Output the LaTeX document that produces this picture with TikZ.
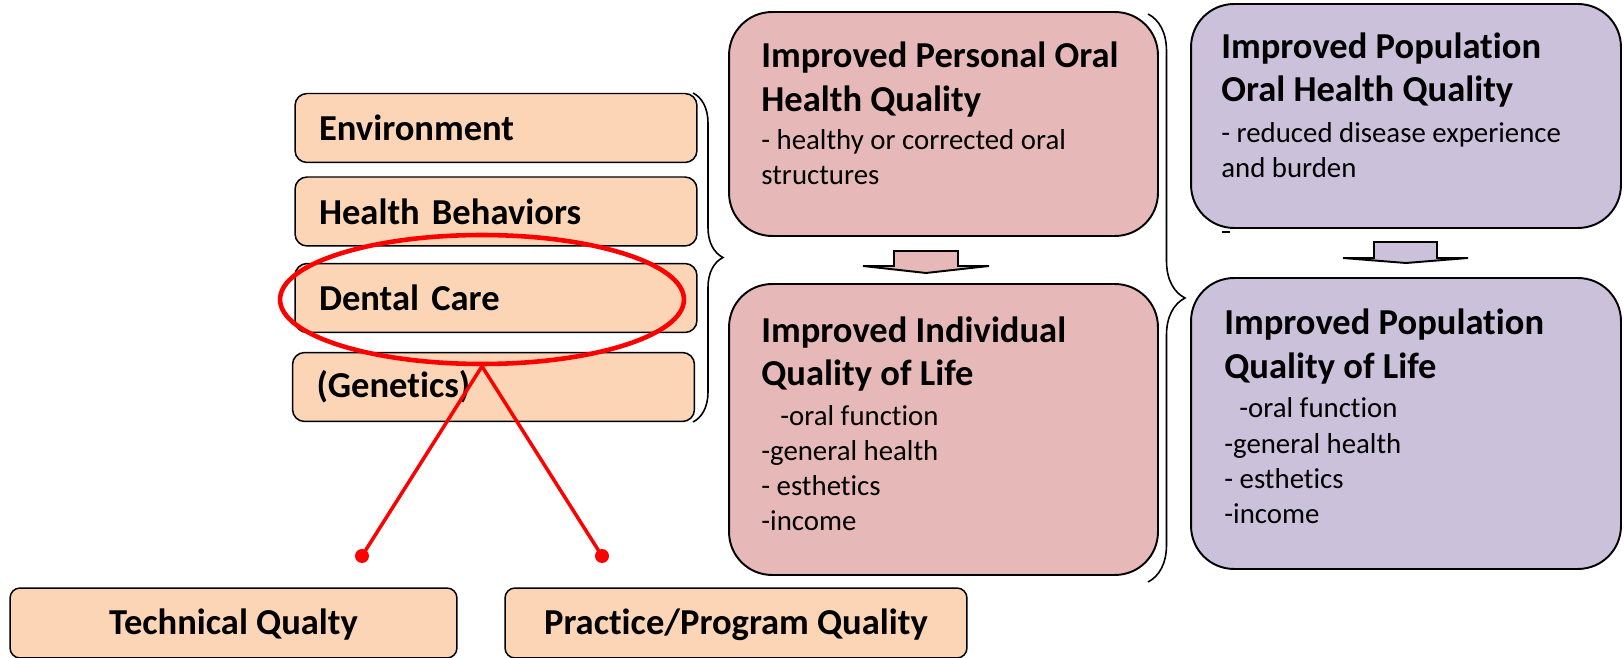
\documentclass[tikz,border=0pt]{standalone}
\usepackage{fontspec}
\setmainfont{Carlito}[Ligatures=NoCommon]
\usepackage{xcolor}
\usetikzlibrary{shapes.geometric,decorations.pathreplacing,positioning}
\definecolor{peach}{RGB}{251,213,181}
\definecolor{rosebox}{RGB}{230,185,184}
\definecolor{lilac}{RGB}{204,193,218}
\definecolor{ringred}{RGB}{255,0,0}
\newcommand{\headfont}{\fontsize{20.8}{24.9}\selectfont\bfseries}
\newcommand{\bulletfont}{\fontsize{16.4}{20.1}\selectfont}

\begin{document}
\begin{tikzpicture}[x=0.02cm,y=-0.02cm,
    factor/.style={draw=black,line width=0.85pt,fill=peach,rounded corners=0.24cm,
      minimum height=1.38cm,text width=7.08cm,inner xsep=0.48cm,inner ysep=0pt,
      align=left,font=\headfont},
    outcome/.style={draw=black,line width=1.1pt,rounded corners=0.86cm,inner sep=0pt},
    headtxt/.style={anchor=base west,inner sep=0pt,align=left,font=\headfont},
    subtxt/.style={anchor=base west,inner sep=0pt,align=left,font=\bulletfont},
    qualbox/.style={draw=black,line width=0.85pt,fill=peach,rounded corners=0.2cm,
      minimum height=1.4cm,inner sep=0pt,text height=0.66cm,text depth=0.2cm,font=\headfont},
    blockarrow/.style={draw=black,line width=1.1pt,line join=miter}]
    \useasboundingbox (0,0) rectangle (1624,658);
    % determinants
    \node[factor] (env) at (496,128) {Environment};
    \node[factor] (behav) at (496,211.5) {Health Behaviors};
    \node[factor] (care) at (496,298) {Dental Care};
    \node[factor] (genes) at (493.5,387) {(Genetics)};
    \draw[line width=0.9pt,decorate,decoration={brace,amplitude=0.6cm}] (693,93) -- (693,422);
    % personal outcomes (base = last line)
    \node[outcome,fill=rosebox,minimum width=8.58cm,minimum height=4.48cm] (oralq) at (943.5,124) {};
    \node[headtxt] (oralqhead) at (761,111.5) {Improved Personal Oral\\Health Quality};
    \node[subtxt] (oralqsub) at (761,185) {- healthy or corrected oral\\structures};
    \draw[blockarrow,fill=rosebox] (894,266) -- (894,251) -- (958,251) -- (958,266) -- (989,266) -- (926,273) -- (863,266) -- cycle;
    \node[outcome,fill=rosebox,minimum width=8.58cm,minimum height=5.82cm] (indq) at (943.5,429.5) {};
    \node[headtxt] (indqhead) at (761,386) {Improved Individual\\Quality of Life};
    \node[subtxt] (indqsub) at (761,531) {\hspace*{0.38cm}-oral function\\-general health\\- esthetics\\-income};
    \draw[line width=0.9pt,decorate,decoration={brace,amplitude=0.74cm}] (1148,14) -- (1148,582);
    % population outcomes
    \node[outcome,fill=lilac,minimum width=8.6cm,minimum height=4.48cm] (popq) at (1406,116) {};
    \node[headtxt] (popqhead) at (1221,102) {Improved Population\\Oral Health Quality};
    \node[subtxt] (popqsub) at (1221,178) {- reduced disease experience\\and burden};
    \draw[line width=0.8pt] (1222,232) -- (1230,232);
    \draw[blockarrow,fill=lilac] (1374,258) -- (1374,242) -- (1437,242) -- (1437,258) -- (1468,258) -- (1406,263) -- (1343,258) -- cycle;
    \node[outcome,fill=lilac,minimum width=8.6cm,minimum height=5.82cm] (popl) at (1406,423.5) {};
    \node[headtxt] (poplhead) at (1224,378.7) {Improved Population\\Quality of Life};
    \node[subtxt] (poplsub) at (1224,523.7) {\hspace*{0.3cm}-oral function\\-general health\\- esthetics\\-income};
    % dental care quality
    \node[qualbox,minimum width=8.94cm] (tech) at (233.5,623) {Technical Qualty};
    \node[qualbox,minimum width=9.24cm] (prog) at (736,623) {Practice/Program Quality};
    \node[ellipse,draw=ringred,line width=2.6pt,minimum width=8.08cm,minimum height=2.58cm,inner sep=0pt] (ring) at (482,299.5) {};
    \coordinate (techdot) at (362,556);
    \coordinate (progdot) at (602,556);
    \draw[ringred,line width=2pt] (ring.south) -- (techdot);
    \draw[ringred,line width=2pt] (ring.south) -- (progdot);
    \fill[ringred] (techdot) circle (0.14cm);
    \fill[ringred] (progdot) circle (0.14cm);
\end{tikzpicture}
\end{document}
